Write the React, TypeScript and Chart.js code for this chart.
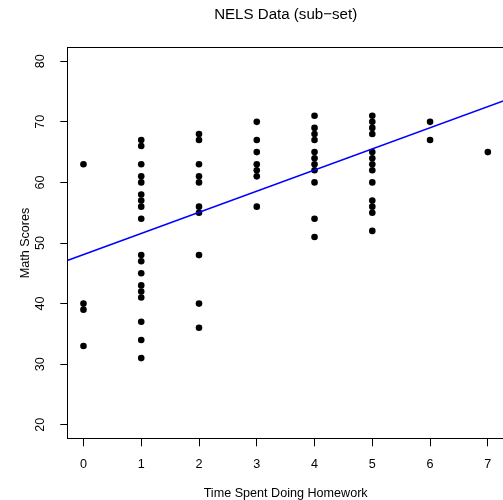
import React, { useEffect, useRef } from "react";
import { Chart, registerables } from "chart.js";

Chart.register(...registerables);

const TITLE = "NELS Data (sub\u2212set)";
const X_TITLE = "Time Spent Doing Homework";
const Y_TITLE = "Math Scores";

const HOMEWORK = [
  0, 0, 0, 0,
  1, 1, 1, 1, 1, 1, 1, 1, 1, 1, 1, 1, 1, 1, 1, 1, 1, 1,
  2, 2, 2, 2, 2, 2, 2, 2, 2, 2,
  3, 3, 3, 3, 3, 3, 3,
  4, 4, 4, 4, 4, 4, 4, 4, 4, 4, 4,
  5, 5, 5, 5, 5, 5, 5, 5, 5, 5, 5, 5, 5,
  6, 6,
  7,
];
const MATH = [
  63, 40, 39, 33,
  67, 66, 63, 61, 60, 58, 57, 56, 54, 48, 47, 45, 43, 42, 41, 37, 34, 31,
  68, 67, 63, 61, 60, 56, 55, 48, 40, 36,
  70, 67, 65, 63, 62, 61, 56,
  71, 69, 68, 67, 65, 64, 63, 62, 60, 54, 51,
  71, 70, 69, 68, 65, 64, 63, 62, 60, 57, 56, 55, 52,
  70, 67,
  65,
];

const X_TICKS = [0, 1, 2, 3, 4, 5, 6, 7];
const Y_TICKS = [20, 30, 40, 50, 60, 70, 80];
const X_MIN = -0.28;
const X_MAX = 7.28;
const Y_MIN = 17.6;
const Y_MAX = 82.4;

// fitted regression line
const INTERCEPT = 48.08;
const SLOPE = 3.49;

const FONT = "'Liberation Sans', Arial, Helvetica, sans-serif";

export default function App() {
  const ref = useRef<HTMLCanvasElement | null>(null);

  useEffect(() => {
    if (!ref.current) return;
    const points = HOMEWORK.map((x, i) => ({ x, y: MATH[i] }));
    const linePts = [X_MIN, X_MAX].map((x) => ({ x, y: INTERCEPT + SLOPE * x }));

    const boxPlugin = {
      id: "boxAndTitle",
      afterDraw(chart: any) {
        const { ctx, chartArea } = chart;
        ctx.save();
        ctx.strokeStyle = "#000";
        ctx.lineWidth = 1;
        const l = Math.round(chartArea.left) + 0.5;
        const t = Math.round(chartArea.top) + 0.5;
        const r = Math.round(chartArea.right) - 0.5;
        const b = Math.round(chartArea.bottom) - 0.5;
        ctx.strokeRect(l, t, r - l, b - t);
        ctx.fillStyle = "#000";
        ctx.font = `15.1px ${FONT}`;
        ctx.textAlign = "center";
        ctx.textBaseline = "middle";
        ctx.fillText(TITLE, (chartArea.left + chartArea.right) / 2, 14.5);
        ctx.restore();
      },
    };

    const chart = new Chart(ref.current, {
      type: "scatter",
      data: {
        datasets: [
          {
            type: "line",
            data: linePts,
            borderColor: "#0000ff",
            borderWidth: 1.6,
            pointRadius: 0,
            showLine: true,
            fill: false,
            order: 0,
          } as any,
          {
            data: points,
            backgroundColor: "#000",
            borderColor: "#000",
            borderWidth: 0,
            pointRadius: 3.3,
            order: 1,
          },
        ],
      },
      options: {
        animation: false,
        responsive: true,
        maintainAspectRatio: false,
        events: [],
        layout: { padding: { left: 0, right: 1.3, top: 46.7, bottom: 0 } },
        plugins: {
          legend: { display: false },
          tooltip: { enabled: false },
          title: { display: false },
        },
        scales: {
          x: {
            type: "linear",
            min: X_MIN,
            max: X_MAX,
            afterBuildTicks: (s: any) => {
              s.ticks = X_TICKS.map((v) => ({ value: v }));
            },
            afterFit: (s: any) => {
              s.height = 60.7;
            },
            grid: {
              drawOnChartArea: false,
              drawTicks: true,
              tickLength: 7,
              color: "#000",
            },
            border: { display: false },
            ticks: {
              color: "#000",
              font: { family: FONT, size: 12.6 },
              padding: 10.7,
              maxRotation: 0,
              minRotation: 0,
              autoSkip: false,
            },
            title: {
              display: true,
              text: X_TITLE,
              color: "#000",
              font: { family: FONT, size: 12.6, lineHeight: 1.1 },
              padding: { top: 0, bottom: 0 },
            },
          },
          y: {
            type: "linear",
            min: Y_MIN,
            max: Y_MAX,
            afterBuildTicks: (s: any) => {
              s.ticks = Y_TICKS.map((v) => ({ value: v }));
            },
            afterFit: (s: any) => {
              s.width = 67.3;
            },
            grid: {
              drawOnChartArea: false,
              drawTicks: true,
              tickLength: 7,
              color: "#000",
            },
            border: { display: false },
            ticks: {
              color: "#000",
              font: { family: FONT, size: 12.6 },
              padding: 12.5,
              minRotation: 90,
              maxRotation: 90,
              crossAlign: "center",
              autoSkip: false,
            },
            title: {
              display: true,
              text: Y_TITLE,
              color: "#000",
              font: { family: FONT, size: 12.6, lineHeight: 1.2 },
              padding: { top: 18.4, bottom: 0 },
            },
          },
        },
      },
      plugins: [boxPlugin],
    });
    return () => chart.destroy();
  }, []);

  return (
    <div
      style={{
        position: "fixed",
        left: 0,
        top: 0,
        width: 503,
        height: 500,
        overflow: "hidden",
        background: "#fff",
      }}
    >
      <div style={{ position: "relative", width: 508, height: 500 }}>
        <canvas ref={ref} />
      </div>
    </div>
  );
}
